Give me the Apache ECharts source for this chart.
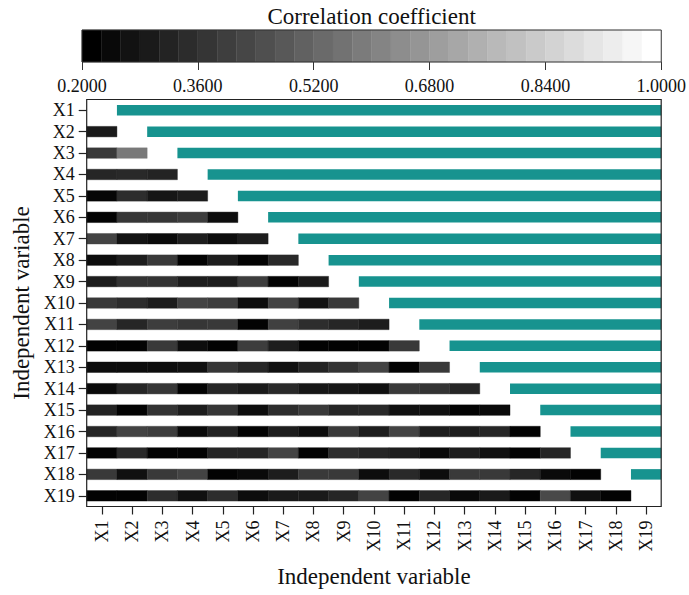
<!DOCTYPE html>
<html>
<head>
<meta charset="utf-8">
<script src="https://cdn.jsdelivr.net/npm/echarts@6/dist/echarts.min.js"></script>
<style>
  html, body { margin: 0; padding: 0; background: #ffffff; }
  #chart { width: 689px; height: 595px; }
</style>
</head>
<body>
<div id="chart"></div>
<script>
// Variable names shared by both axes
const variables = ['X1','X2','X3','X4','X5','X6','X7','X8','X9','X10',
  'X11','X12','X13','X14','X15','X16','X17','X18','X19'];

// Lower triangle of the correlation matrix: row Xi against X1..X(i-1)
const rX2  = [0.28];
const rX3  = [0.38, 0.58];
const rX4  = [0.32, 0.33, 0.31];
const rX5  = [0.22, 0.34, 0.27, 0.29];
const rX6  = [0.21, 0.37, 0.37, 0.39, 0.24];
const rX7  = [0.41, 0.26, 0.23, 0.29, 0.24, 0.29];
const rX8  = [0.24, 0.29, 0.38, 0.21, 0.29, 0.21, 0.33];
const rX9  = [0.29, 0.36, 0.36, 0.29, 0.29, 0.39, 0.21, 0.28];
const rX10 = [0.38, 0.34, 0.29, 0.41, 0.39, 0.24, 0.41, 0.26, 0.38];
const rX11 = [0.41, 0.32, 0.39, 0.37, 0.38, 0.21, 0.40, 0.34, 0.32, 0.29];
const rX12 = [0.21, 0.21, 0.38, 0.24, 0.21, 0.39, 0.29, 0.21, 0.21, 0.21, 0.38];
const rX13 = [0.24, 0.24, 0.24, 0.25, 0.37, 0.32, 0.25, 0.31, 0.36, 0.41, 0.21, 0.38];
const rX14 = [0.23, 0.32, 0.37, 0.21, 0.32, 0.28, 0.33, 0.27, 0.27, 0.25, 0.38, 0.36, 0.32];
const rX15 = [0.31, 0.21, 0.36, 0.29, 0.37, 0.24, 0.34, 0.38, 0.32, 0.33, 0.25, 0.25, 0.21, 0.23];
const rX16 = [0.32, 0.41, 0.39, 0.23, 0.31, 0.21, 0.29, 0.24, 0.38, 0.29, 0.41, 0.29, 0.29, 0.32, 0.21];
const rX17 = [0.21, 0.33, 0.21, 0.21, 0.32, 0.32, 0.41, 0.21, 0.34, 0.32, 0.29, 0.23, 0.29, 0.25, 0.21, 0.32];
const rX18 = [0.38, 0.25, 0.38, 0.41, 0.21, 0.23, 0.29, 0.38, 0.38, 0.24, 0.33, 0.24, 0.38, 0.38, 0.32, 0.23, 0.21];
const rX19 = [0.21, 0.21, 0.34, 0.25, 0.34, 0.24, 0.28, 0.28, 0.32, 0.41, 0.21, 0.32, 0.23, 0.28, 0.21, 0.43, 0.25, 0.21];
const lowerRows = [[], rX2, rX3, rX4, rX5, rX6, rX7, rX8, rX9, rX10,
  rX11, rX12, rX13, rX14, rX15, rX16, rX17, rX18, rX19];

// Colour scale of the coefficient legend
const colorbarRange = [0.2, 1.0];
const colorbarTicks = [0.2, 0.36, 0.52, 0.68, 0.84, 1.0];
const colorbarSteps = 30;

const serif = 'Liberation Serif';
const ink = '#111111';
const teal = '#17938f';
const tickFont = 18;
const nameFont = 23;

// Cells: [column index, row index, coefficient]
const cellData = [];
lowerRows.forEach(function (row, i) {
  row.forEach(function (v, j) { cellData.push([j, i, v]); });
});

// Upper part of each row: [first column, last column, row index]
const upperData = [];
variables.forEach(function (name, i) {
  if (i + 1 < variables.length) upperData.push([i + 1, variables.length - 1, i]);
});

// Legend blocks: [start, end, shade value]
const stepData = [];
const stepW = (colorbarRange[1] - colorbarRange[0]) / colorbarSteps;
for (let k = 0; k < colorbarSteps; k++) {
  const lo = colorbarRange[0] + k * stepW;
  stepData.push([lo, lo + stepW,
    colorbarRange[0] + (colorbarRange[1] - colorbarRange[0]) * k / (colorbarSteps - 1)]);
}

const chart = echarts.init(document.getElementById('chart'), null, { renderer: 'svg' });

chart.setOption({
  backgroundColor: '#ffffff',
  animation: false,
  grid: [
    { left: 82, top: 30, width: 585, height: 32, show: true, z: 5,
      borderColor: '#333333', borderWidth: 1, backgroundColor: 'transparent' },
    { left: 86.7, top: 99.5, width: 574.5, height: 407, show: true, z: 5,
      borderColor: '#222222', borderWidth: 1.2, backgroundColor: 'transparent' }
  ],
  visualMap: {
    type: 'continuous', show: false, dimension: 2, seriesIndex: [0, 2],
    min: colorbarRange[0], max: colorbarRange[1],
    inRange: { color: ['#000000', '#ffffff'] }
  },
  xAxis: [
    { gridIndex: 0, type: 'value', min: colorbarRange[0], max: colorbarRange[1],
      position: 'bottom',
      axisLine: { show: false },
      axisTick: { show: true, customValues: colorbarTicks, length: 8,
        lineStyle: { color: '#333333', width: 1 } },
      axisLabel: { customValues: colorbarTicks, margin: 15,
        formatter: function (v) { return v.toFixed(4); },
        fontFamily: serif, fontSize: tickFont, color: ink },
      splitLine: { show: false } },
    { gridIndex: 0, type: 'value', min: colorbarRange[0], max: colorbarRange[1],
      position: 'top',
      axisLine: { show: false }, axisTick: { show: false },
      axisLabel: { show: false }, splitLine: { show: false },
      name: 'Correlation coefficient', nameLocation: 'middle', nameGap: 2,
      nameTextStyle: { fontFamily: serif, fontSize: nameFont, color: ink } },
    { gridIndex: 1, type: 'category', data: variables, boundaryGap: true,
      position: 'bottom',
      axisLine: { show: false },
      axisTick: { show: true, alignWithLabel: true, length: 8,
        lineStyle: { color: '#222222', width: 1.2 } },
      axisLabel: { rotate: 90, margin: 14, interval: 0,
        fontFamily: serif, fontSize: tickFont, color: ink },
      splitLine: { show: false },
      name: 'Independent variable', nameLocation: 'middle', nameGap: 58,
      nameTextStyle: { fontFamily: serif, fontSize: nameFont, color: ink } }
  ],
  yAxis: [
    { gridIndex: 0, type: 'value', min: 0, max: 1, show: false },
    { gridIndex: 1, type: 'category', data: variables, inverse: true, boundaryGap: true,
      axisLine: { show: false },
      axisTick: { show: true, alignWithLabel: true, length: 8,
        lineStyle: { color: '#222222', width: 1.2 } },
      axisLabel: { margin: 12, interval: 0,
        fontFamily: serif, fontSize: tickFont, color: ink },
      splitLine: { show: false },
      name: 'Independent variable', nameLocation: 'middle', nameGap: 50,
      nameTextStyle: { fontFamily: serif, fontSize: nameFont, color: ink } }
  ],
  series: [
    { // shaded coefficient cells
      type: 'custom', xAxisIndex: 2, yAxisIndex: 1, data: cellData,
      encode: { x: 0, y: 1 },
      renderItem: function (params, api) {
        const c = api.coord([api.value(0), api.value(1)]);
        const s = api.size([1, 1]);
        const h = s[1] * 0.49;
        const fill = api.visual('color');
        return { type: 'rect',
          shape: { x: c[0] - s[0] / 2, y: c[1] - h / 2, width: s[0], height: h },
          style: { fill: fill, stroke: fill, lineWidth: 0.4 } };
      }
    },
    { // teal bars covering the upper part of every row
      type: 'custom', xAxisIndex: 2, yAxisIndex: 1, data: upperData,
      encode: { x: [0, 1], y: 2 },
      renderItem: function (params, api) {
        const a = api.coord([api.value(0), api.value(2)]);
        const b = api.coord([api.value(1), api.value(2)]);
        const s = api.size([1, 1]);
        const h = s[1] * 0.49;
        return { type: 'rect',
          shape: { x: a[0] - s[0] / 2, y: a[1] - h / 2,
            width: b[0] - a[0] + s[0], height: h },
          style: { fill: teal } };
      }
    },
    { // grey legend blocks
      type: 'custom', xAxisIndex: 0, yAxisIndex: 0, data: stepData,
      encode: { x: [0, 1] },
      renderItem: function (params, api) {
        const p0 = api.coord([api.value(0), 0]);
        const p1 = api.coord([api.value(1), 1]);
        const fill = api.visual('color');
        return { type: 'rect',
          shape: { x: p0[0], y: p1[1], width: p1[0] - p0[0], height: p0[1] - p1[1] },
          style: { fill: fill, stroke: fill, lineWidth: 0.4 } };
      }
    }
  ]
});
</script>
</body>
</html>
